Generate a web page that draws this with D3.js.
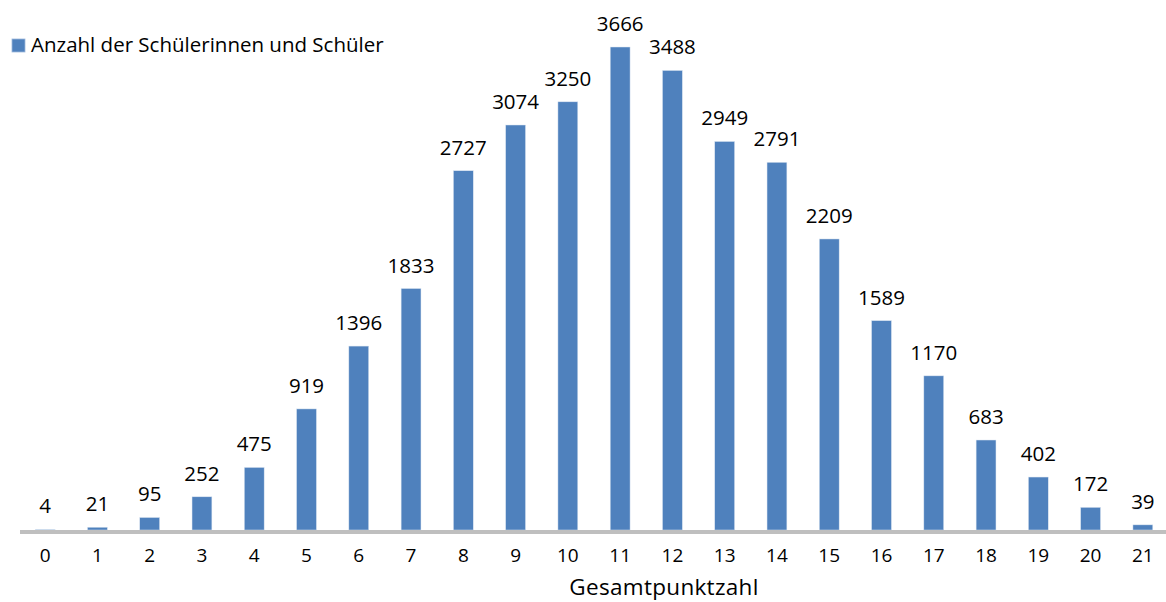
<!DOCTYPE html>
<html lang="de">
<head>
  <meta charset="UTF-8" />
  <title>Gesamtpunktzahl</title>
  <style>
    body {
      margin: 0;
      background-color: white;
    }
    svg {
      display: block;
      font-family: 'Open Sans', sans-serif;
    }
  </style>
  <script src="https://d3js.org/d3.v7.min.js"></script>
</head>
<body>
  <div id="chart"></div>

  <script>
    const punkte = ["0", "1", "2", "3", "4", "5", "6", "7", "8", "9", "10",
      "11", "12", "13", "14", "15", "16", "17", "18", "19", "20", "21"];
    const anzahl = [4, 21, 95, 252, 475, 919, 1396, 1833, 2727, 3074, 3250,
      3666, 3488, 2949, 2791, 2209, 1589, 1170, 683, 402, 172, 39];
    const seriesName = "Anzahl der Schülerinnen und Schüler";
    const xTitle = "Gesamtpunktzahl";

    const barColor = "#4f81bd";
    const width = 1166;
    const height = 602;
    const baseY = 530;

    const data = punkte.map((p, i) => ({ p, n: anzahl[i] }));

    const svg = d3.select("#chart")
      .append("svg")
      .attr("width", width)
      .attr("height", height);

    const x = d3.scaleBand()
      .domain(punkte)
      .range([19, 1169])
      .paddingInner(0.62)
      .paddingOuter(0.31);

    const y = d3.scaleLinear()
      .domain([0, 4000])
      .range([baseY, 3]);

    // bars
    svg.append("g")
      .selectAll("rect")
      .data(data)
      .enter().append("rect")
      .attr("x", d => x(d.p))
      .attr("y", d => y(d.n))
      .attr("width", x.bandwidth())
      .attr("height", d => baseY - y(d.n))
      .attr("fill", barColor)
      .attr("stroke", "#dce6f2")
      .attr("stroke-width", 0.5);

    // value labels
    svg.append("g")
      .selectAll("text")
      .data(data)
      .enter().append("text")
      .attr("x", d => x(d.p) + x.bandwidth() / 2)
      .attr("y", d => y(d.n) - 16)
      .attr("text-anchor", "middle")
      .attr("font-size", 20.5)
      .attr("fill", "#000")
      .text(d => d.n);

    // x axis
    const xAxis = svg.append("g")
      .attr("transform", `translate(0,${baseY + 2})`)
      .call(d3.axisBottom(x).tickSize(0).tickPadding(16.5));
    xAxis.select(".domain")
      .attr("d", `M20,0H${width}`)
      .attr("stroke", "#bfbfbf")
      .attr("stroke-width", 4);
    xAxis.selectAll(".tick text")
      .attr("font-size", 19)
      .attr("font-family", "'Open Sans', sans-serif")
      .attr("fill", "#000");

    svg.append("text")
      .attr("x", 664)
      .attr("y", 595)
      .attr("text-anchor", "middle")
      .attr("font-size", 22.5)
      .attr("letter-spacing", 0.3)
      .attr("fill", "#000")
      .text(xTitle);

    // legend
    const legend = svg.append("g").attr("transform", "translate(12,39)");
    legend.append("rect")
      .attr("width", 13)
      .attr("height", 13)
      .attr("fill", barColor)
      .attr("stroke", "#9db8dc")
      .attr("stroke-width", 0.8);
    legend.append("text")
      .attr("x", 19)
      .attr("y", 12.5)
      .attr("font-size", 20.5)
      .attr("fill", "#000")
      .text(seriesName);
  </script>
</body>
</html>
